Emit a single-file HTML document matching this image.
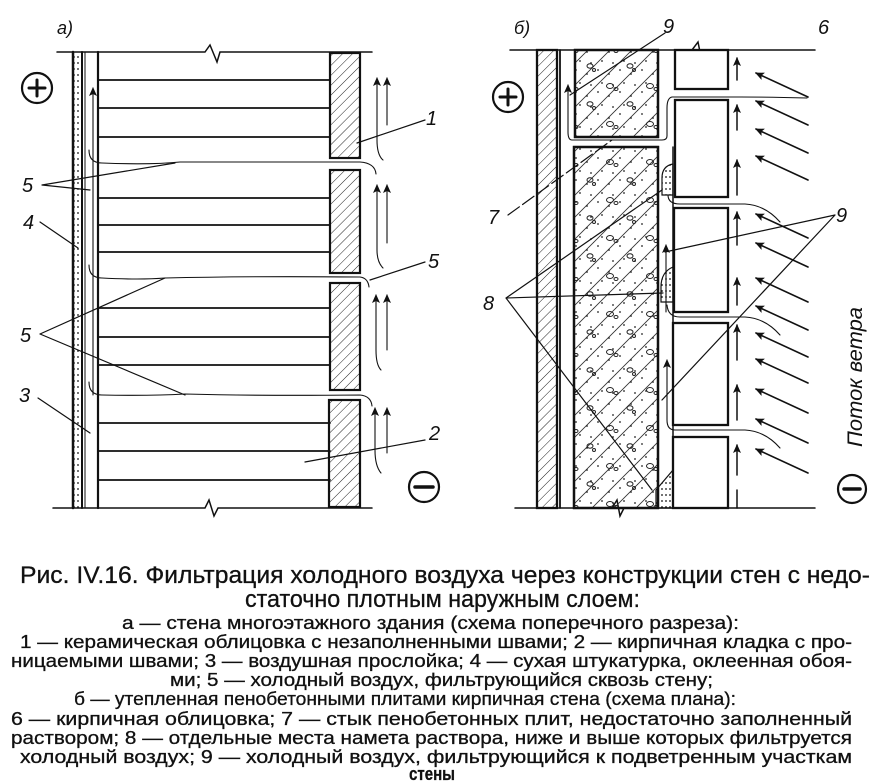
<!DOCTYPE html>
<html><head><meta charset="utf-8"><style>
html,body{margin:0;padding:0;background:#fff;}
svg{display:block;}
</style></head><body>
<svg width="886" height="781" viewBox="0 0 886 781" xmlns="http://www.w3.org/2000/svg" font-family="Liberation Sans, DejaVu Sans, sans-serif">
<defs>
<pattern id="hatch" width="7" height="7" patternUnits="userSpaceOnUse" patternTransform="rotate(45)">
<line x1="0" y1="0" x2="0" y2="7" stroke="#222" stroke-width="1"/>
</pattern>
<pattern id="foam" width="22" height="22" patternUnits="userSpaceOnUse">
<line x1="0" y1="22" x2="22" y2="0" stroke="#333" stroke-width="0.9"/>
<line x1="-11" y1="11" x2="11" y2="-11" stroke="#333" stroke-width="0.9"/>
<line x1="11" y1="33" x2="33" y2="11" stroke="#333" stroke-width="0.9"/>
<circle cx="4" cy="4" r="0.9" fill="#222"/><circle cx="15" cy="8" r="0.9" fill="#222"/>
<circle cx="8" cy="17" r="0.9" fill="#222"/><circle cx="19" cy="19" r="0.9" fill="#222"/>
</pattern>
<pattern id="pebbles" width="40" height="38" patternUnits="userSpaceOnUse">
<ellipse cx="10" cy="10" rx="3.5" ry="2.5" fill="none" stroke="#222" stroke-width="1"/>
<ellipse cx="16" cy="13" rx="2" ry="1.5" fill="none" stroke="#222" stroke-width="1"/>
<ellipse cx="30" cy="28" rx="3" ry="2.2" fill="none" stroke="#222" stroke-width="1"/>
<circle cx="34" cy="32" r="1.5" fill="none" stroke="#222"/>
</pattern>
<pattern id="dots" width="4" height="6" patternUnits="userSpaceOnUse">
<circle cx="2" cy="3" r="0.9" fill="#111"/>
</pattern>
<marker id="ah" markerWidth="10" markerHeight="10" refX="8" refY="5" orient="auto" markerUnits="userSpaceOnUse">
<path d="M0,1 L9,5 L0,9 L2,5 Z" fill="#111"/>
</marker>
</defs>

<g stroke="#111" fill="none" stroke-linecap="round">
<!-- LEFT DIAGRAM -->
<text x="57" y="34" font-size="18" font-style="italic" fill="#111" stroke="none">а)</text>
<path d="M57,52 H205 L210,45 L217,62 L220,52 H372" stroke-width="1.5"/>
<path d="M53,508 H205 L209,500 L214,516 L218,508 H372" stroke-width="1.5"/>
<rect x="74" y="52" width="7" height="456" fill="url(#dots)" stroke="none"/>
<line x1="73" y1="52" x2="73" y2="508" stroke-width="2.5"/>
<line x1="82" y1="52" x2="82" y2="508" stroke-width="2"/>
<line x1="85" y1="52" x2="85" y2="508" stroke-width="1"/>
<line x1="98" y1="52" x2="98" y2="508" stroke-width="2.2"/>
<g stroke-width="1.8">
<line x1="98" y1="80" x2="330" y2="80"/><line x1="98" y1="108" x2="330" y2="108"/><line x1="98" y1="137" x2="330" y2="137"/>
<line x1="98" y1="198" x2="330" y2="198"/><line x1="98" y1="225" x2="330" y2="225"/><line x1="98" y1="252" x2="330" y2="252"/>
<line x1="98" y1="308" x2="330" y2="308"/><line x1="98" y1="337" x2="330" y2="337"/><line x1="98" y1="365" x2="330" y2="365"/>
<line x1="98" y1="423" x2="330" y2="423"/><line x1="98" y1="451" x2="330" y2="451"/><line x1="98" y1="480" x2="330" y2="480"/>
</g>
<g stroke-width="2.2" fill="url(#hatch)">
<rect x="330" y="53" width="30" height="105"/>
<rect x="330" y="170" width="30" height="103"/>
<rect x="330" y="283" width="30" height="107"/>
<rect x="329" y="400" width="31" height="107"/>
</g>
<g stroke-width="1.1">
<path d="M93,395 V88" marker-end="url(#ah)"/>
<path d="M89,150 Q89,163 102,163 Q150,165 180,162 H360 Q375,163 376,174"/>
<path d="M89,265 Q89,278 102,278 Q140,280 165,278 Q250,276 360,277 Q368,278 369,287"/>
<path d="M89,382 Q89,395 102,395 Q150,396 185,394 Q260,396 360,395 Q371,396 372,406"/>
<path d="M383,160 Q377,155 377,140 V78" marker-end="url(#ah)"/><path d="M387,125 V78" marker-end="url(#ah)"/>
<path d="M383,268 Q377,262 377,250 V185" marker-end="url(#ah)"/><path d="M387,243 V185" marker-end="url(#ah)"/>
<path d="M381,370 Q376,365 376,350 V295" marker-end="url(#ah)"/><path d="M387,350 V295" marker-end="url(#ah)"/>
<path d="M381,473 Q375,466 375,450 V408" marker-end="url(#ah)"/><path d="M387,453 V408" marker-end="url(#ah)"/>
</g>
<g stroke-width="1.2">
<line x1="357" y1="143" x2="425" y2="120"/>
<path d="M42,185 L175,163 M42,185 L90,190"/>
<line x1="40" y1="222" x2="78" y2="248"/>
<line x1="370" y1="280" x2="425" y2="262"/>
<path d="M40,334 L165,278 M40,334 L185,395"/>
<line x1="38" y1="398" x2="90" y2="433"/>
<line x1="305" y1="462" x2="425" y2="440"/>
</g>
<g fill="#111" stroke="none" font-size="20" font-style="italic">
<text x="426" y="125">1</text>
<text x="22" y="192">5</text>
<text x="23" y="229">4</text>
<text x="428" y="268">5</text>
<text x="20" y="342">5</text>
<text x="19" y="402">3</text>
<text x="429" y="440">2</text>
</g>
<circle cx="37" cy="88" r="15" stroke-width="2.2"/>
<path d="M29,88 H45 M37,80 V96" stroke-width="3"/>
<circle cx="424" cy="487" r="15" stroke-width="2.2"/>
<path d="M415,487 H433" stroke-width="3.5"/>

<!-- RIGHT DIAGRAM -->
<text x="514" y="34" font-size="18" font-style="italic" fill="#111" stroke="none">б)</text>
<text x="818" y="34" font-size="20" font-style="italic" fill="#111" stroke="none">6</text>
<path d="M510,50 H692 L698,42 L702,62 L706,50 H815" stroke-width="1.5"/>
<path d="M515,508 H612 L617,500 L620,516 L624,508 H815" stroke-width="1.5"/>
<rect x="537" y="50" width="20" height="458" fill="url(#hatch)" stroke-width="2.3"/>
<line x1="560" y1="50" x2="560" y2="508" stroke-width="1.8"/>
<g stroke-width="2.3">
<rect x="575" y="50" width="83" height="87" fill="url(#foam)"/>
<rect x="575" y="50" width="83" height="87" fill="url(#pebbles)"/>
<rect x="574" y="147" width="84" height="361" fill="url(#foam)"/>
<rect x="574" y="147" width="84" height="361" fill="url(#pebbles)"/>
<line x1="673" y1="147" x2="673" y2="508" stroke-width="1.5"/>
</g>
<g stroke-width="1.2" fill="url(#dots)">
<path d="M673,164 Q662,166 662,178 V195 H673 Z"/>
<path d="M673,267 Q661,272 661,287 V302 H673 Z"/>
<path d="M656,490 L673,470 V508 H656 Z"/>
</g>
<g stroke-width="2.3" fill="#fff">
<rect x="675" y="50" width="53" height="39"/>
<rect x="675" y="100" width="53" height="97"/>
<rect x="674" y="208" width="54" height="104"/>
<rect x="673" y="323" width="55" height="102"/>
<rect x="673" y="437" width="55" height="71"/>
</g>
<g stroke-width="1.5">
<path d="M737,80 V58" marker-end="url(#ah)"/>
<path d="M737,130 V105" marker-end="url(#ah)"/><path d="M737,195 V160" marker-end="url(#ah)"/>
<path d="M737,245 V212" marker-end="url(#ah)"/><path d="M737,305 V278" marker-end="url(#ah)"/>
<path d="M737,360 V325" marker-end="url(#ah)"/><path d="M737,420 V385" marker-end="url(#ah)"/>
<path d="M737,475 V445" marker-end="url(#ah)"/><path d="M737,508 V490"/>
</g>
<g stroke-width="1.6">
<path d="M808,97 L756,73" marker-end="url(#ah)"/>
<path d="M808,125 L756,101" marker-end="url(#ah)"/>
<path d="M808,153 L756,129" marker-end="url(#ah)"/>
<path d="M808,180 L756,156" marker-end="url(#ah)"/>
<path d="M808,238 L756,214" marker-end="url(#ah)"/>
<path d="M808,267 L756,243" marker-end="url(#ah)"/>
<path d="M808,302 L756,278" marker-end="url(#ah)"/>
<path d="M808,330 L756,306" marker-end="url(#ah)"/>
<path d="M808,357 L756,333" marker-end="url(#ah)"/>
<path d="M808,383 L756,359" marker-end="url(#ah)"/>
<path d="M808,413 L756,389" marker-end="url(#ah)"/>
<path d="M808,443 L756,419" marker-end="url(#ah)"/>
<path d="M808,473 L756,449" marker-end="url(#ah)"/>
</g>
<g stroke-width="1.1">
<path d="M807,98 Q770,97 740,97 H672 Q667,98 667,108 V136 Q667,140 662,140 H572 Q568,140 568,132 V85" marker-end="url(#ah)"/>
<path d="M780,222 Q765,205 745,204 H680 Q668,204 668,195"/>
<path d="M780,335 Q765,318 745,317 H680 Q668,317 667,305"/>
<path d="M780,448 Q765,431 745,430 H675 Q667,430 667,420 V360" marker-end="url(#ah)"/>
<path d="M666,312 V245" marker-end="url(#ah)"/>
</g>
<g stroke-width="1.2">
<line x1="570" y1="95" x2="665" y2="33"/>
<line x1="508" y1="215" x2="612" y2="140" stroke-dasharray="14,4"/>
<path d="M506,298 L662,190 M506,298 L663,293 M506,298 L652,490"/>
<path d="M835,215 L665,252 M835,215 L662,400"/>
</g>
<g fill="#111" stroke="none" font-size="20" font-style="italic">
<text x="663" y="33">9</text>
<text x="488" y="224">7</text>
<text x="483" y="310">8</text>
<text x="836" y="222">9</text>
<text transform="translate(862,447) rotate(-90)" font-size="21" textLength="140" lengthAdjust="spacingAndGlyphs">Поток ветра</text>
</g>
<circle cx="508" cy="97" r="15" stroke-width="2.2"/>
<path d="M500,97 H516 M508,89 V105" stroke-width="3"/>
<circle cx="852" cy="489" r="14" stroke-width="2.2"/>
<path d="M844,489 H860" stroke-width="3.5"/>
</g>

<!-- CAPTION -->
<g fill="#111" stroke="#111" stroke-width="0.3" font-family="Liberation Sans, DejaVu Sans, sans-serif">
<text x="20" y="583" font-size="24" textLength="850" lengthAdjust="spacingAndGlyphs">Рис. IV.16. Фильтрация холодного воздуха через конструкции стен с недо-</text>
<text x="245" y="607" font-size="24" textLength="395" lengthAdjust="spacingAndGlyphs">статочно плотным наружным слоем:</text>
<g font-size="18">
<text x="122" y="629" textLength="617" lengthAdjust="spacingAndGlyphs">а — стена многоэтажного здания (схема поперечного разреза):</text>
<text x="20" y="648" textLength="832" lengthAdjust="spacingAndGlyphs">1 — керамическая облицовка с незаполненными швами; 2 — кирпичная кладка с про-</text>
<text x="11" y="667" textLength="841" lengthAdjust="spacingAndGlyphs">ницаемыми швами; 3 — воздушная прослойка; 4 — сухая штукатурка, оклеенная обоя-</text>
<text x="170" y="686" textLength="543" lengthAdjust="spacingAndGlyphs">ми; 5 — холодный воздух, фильтрующийся сквозь стену;</text>
<text x="74" y="705" textLength="662" lengthAdjust="spacingAndGlyphs">б — утепленная пенобетонными плитами кирпичная стена (схема плана):</text>
<text x="11" y="725" textLength="841" lengthAdjust="spacingAndGlyphs">6 — кирпичная облицовка; 7 — стык пенобетонных плит, недостаточно заполненный</text>
<text x="11" y="744" textLength="841" lengthAdjust="spacingAndGlyphs">раствором; 8 — отдельные места намета раствора, ниже и выше которых фильтруется</text>
<text x="20" y="763" textLength="832" lengthAdjust="spacingAndGlyphs">холодный воздух; 9 — холодный воздух, фильтрующийся к подветренным участкам</text>
<text x="409" y="780" textLength="46" lengthAdjust="spacingAndGlyphs" font-weight="bold">стены</text>
</g>
</g>
</svg>
</body></html>
